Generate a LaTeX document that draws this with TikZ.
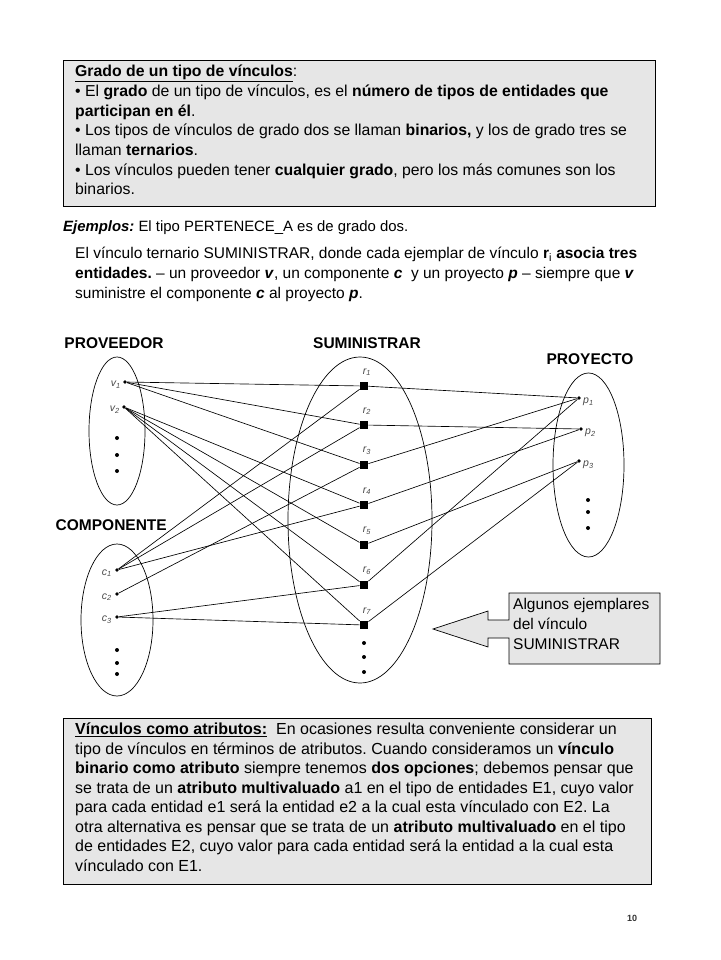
\documentclass[tikz,border=0pt]{standalone}
\usepackage{fontspec}
\setmainfont{Liberation Sans}
\definecolor{boxgray}{HTML}{E6E6E6}
\definecolor{lblgray}{HTML}{4A4A4A}
\begin{document}
\frenchspacing
\begin{tikzpicture}[x=1pt,y=-1pt,
  dot/.style={circle,fill=black,inner sep=0pt,minimum size=3.8pt},
  edot/.style={circle,fill=black,inner sep=0pt,minimum size=4pt},
  rel/.style={rectangle,fill=black,inner sep=0pt,minimum size=8.5pt},
  link/.style={line width=0.65pt},
  setel/.style={line width=0.7pt},
  lbl/.style={font=\fontsize{10.5}{12}\selectfont\itshape,text=lblgray,inner sep=0pt},
  settitle/.style={font=\fontsize{15.5}{18}\selectfont\bfseries,inner sep=0pt},
  body/.style={font=\fontsize{15.8}{19.7}\selectfont,align=left,inner sep=0pt,anchor=north west},
  panel/.style={draw=black,fill=boxgray,line width=0.8pt,inner sep=0pt,anchor=north west}]
\useasboundingbox (0,0) rectangle (720,960);
\fill[white] (0,0) rectangle (720,960);

% ---------- top box ----------
\node[panel,minimum width=592pt,minimum height=146pt] (topbox) at (63,60) {};
\node[body] (toptext) at (75,65) {\underline{\textbf{Grado de un tipo de vínculos}}:\\
• El \textbf{grado} de un tipo de vínculos, es el \textbf{número de tipos de entidades que}\\
\textbf{participan en él}.\\
• Los tipos de vínculos de grado dos se llaman \textbf{binarios,} y los de grado tres se\\
llaman \textbf{ternarios}.\\
• Los vínculos pueden tener \textbf{cualquier grado}, pero los más comunes son los\\
binarios.};

% ---------- examples ----------
\node[body,font=\fontsize{14.9}{19.5}\selectfont,anchor=west] (ejemplos) at (63,228) {\textbf{\textit{Ejemplos:}} El tipo PERTENECE\_A es de grado dos.};
\node[body,font=\fontsize{15.5}{20}\selectfont] (ternario) at (75,247) {El vínculo ternario SUMINISTRAR, donde cada ejemplar de vínculo \textbf{r}\textsubscript{i} \textbf{asocia tres}\\
\textbf{entidades.} – un proveedor \textbf{\textit{v}}, un componente \textbf{\textit{c}}\ \ y un proyecto \textbf{\textit{p}} – siempre que \textbf{\textit{v}}\\
suministre el componente \textbf{\textit{c}} al proyecto \textbf{\textit{p}}.};

% ---------- set titles ----------
\node[settitle] (tprov) at (114,343) {PROVEEDOR};
\node[settitle] (tsum) at (367,343) {SUMINISTRAR};
\node[settitle] (tproy) at (590,359) {PROYECTO};
\node[settitle,anchor=east] (tcomp) at (167,525) {COMPONENTE};

% ---------- ellipses ----------
\draw[setel] (117,431) ellipse [x radius=28,y radius=74];
\draw[setel] (117,620) ellipse [x radius=36,y radius=76];
\draw[setel] (360,520) ellipse [x radius=72,y radius=163];
\draw[setel] (588.5,465) ellipse [x radius=35.5,y radius=92];

% ---------- elements ----------
\node[dot] (v1) at (125,382) {};
\node[dot] (v2) at (124,407) {};
\node[lbl,anchor=east] (lv1) at (121,385) {v\textsubscript{1}};
\node[lbl,anchor=east] (lv2) at (120,410) {v\textsubscript{2}};
\node[edot] (pv1) at (117,438) {};
\node[edot] (pv2) at (117,455) {};
\node[edot] (pv3) at (117,471) {};

\node[dot] (c1) at (117,570) {};
\node[dot] (c2) at (117,594) {};
\node[dot] (c3) at (117,617) {};
\node[lbl,anchor=east] (lc1) at (112,573) {c\textsubscript{1}};
\node[lbl,anchor=east] (lc2) at (112,597) {c\textsubscript{2}};
\node[lbl,anchor=east] (lc3) at (112,620) {c\textsubscript{3}};
\node[edot] (pc1) at (117,650) {};
\node[edot] (pc2) at (117,663) {};
\node[edot] (pc3) at (117,674) {};

\foreach \i/\yy in {1/386,2/425,3/465,4/505,5/545,6/585,7/625}{
  \node[rel] (r\i) at (364,\yy) {};
  \node[lbl] (lr\i) at (367,\yy-14) {r\textsubscript{\i}};
}
\node[edot] (pr1) at (364,643) {};
\node[edot] (pr2) at (364,657) {};
\node[edot] (pr3) at (364,672) {};

\node[dot] (p1) at (579,398) {};
\node[dot] (p2) at (581,429) {};
\node[dot] (p3) at (579,461) {};
\node[lbl,anchor=west] (lp1) at (583,402) {p\textsubscript{1}};
\node[lbl,anchor=west] (lp2) at (585,433) {p\textsubscript{2}};
\node[lbl,anchor=west] (lp3) at (583,465) {p\textsubscript{3}};
\node[edot] (pp1) at (588,500) {};
\node[edot] (pp2) at (588,512) {};
\node[edot] (pp3) at (588,528) {};

% ---------- links ----------
\draw[link] (v1) -- (r1);
\draw[link] (v1) -- (r2);
\draw[link] (v1) -- (r3);
\draw[link] (v2) -- (r4);
\draw[link] (v2) -- (r5);
\draw[link] (v2) -- (r6);
\draw[link] (v2) -- (r7);
\draw[link] (c1) -- (r1);
\draw[link] (c1) -- (r2);
\draw[link] (c2) -- (r3);
\draw[link] (c1) -- (r4);
\draw[link] (c3) -- (r6);
\draw[link] (c3) -- (r7);
\draw[link] (r1) -- (p1);
\draw[link] (r2) -- (p2);
\draw[link] (r3) -- (p1);
\draw[link] (r4) -- (p2);
\draw[link] (r5) -- (p3);
\draw[link] (r6) -- (p1);
\draw[link] (r7) -- (p3);

% ---------- callout ----------
\draw[fill=boxgray,line width=0.7pt] (509,593) -- (660,593) -- (660,664) -- (509,664) -- (509,638)
  -- (488,638) -- (488,647) -- (433,629) -- (488,611) -- (488,620) -- (509,620) -- cycle;
\node[font=\fontsize{15.5}{20}\selectfont,align=left,inner sep=0pt,anchor=north west] (callout) at (513,598)
  {Algunos ejemplares\\del vínculo\\SUMINISTRAR};

% ---------- bottom box ----------
\node[panel,minimum width=588pt,minimum height=166pt] (botbox) at (63,718) {};
\node[body,font=\fontsize{16}{19.5}\selectfont] (bottext) at (75,723) {\underline{\textbf{Vínculos como atributos:}}\ \ En ocasiones resulta conveniente considerar un\\
tipo de vínculos en términos de atributos. Cuando consideramos un \textbf{vínculo}\\
\textbf{binario como atributo} siempre tenemos \textbf{dos opciones}; debemos pensar que\\
se trata de un \textbf{atributo multivaluado} a1 en el tipo de entidades E1, cuyo valor\\
para cada entidad e1 será la entidad e2 a la cual esta vínculado con E2. La\\
otra alternativa es pensar que se trata de un \textbf{atributo multivaluado} en el tipo\\
de entidades E2, cuyo valor para cada entidad será la entidad a la cual esta\\
vínculado con E1.};

\node[font=\fontsize{9}{10}\selectfont\bfseries,text=black!80] (pagenum) at (632,918) {10};
\end{tikzpicture}
\end{document}
